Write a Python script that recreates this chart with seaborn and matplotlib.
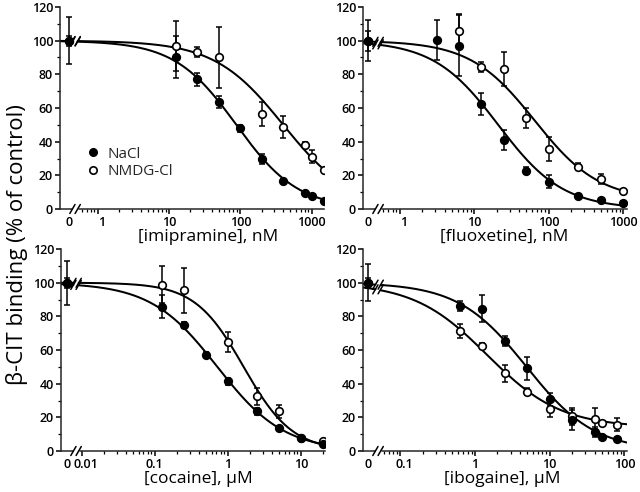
import numpy as np
import pandas as pd
import matplotlib
matplotlib.use("Agg")
import matplotlib.pyplot as plt
import matplotlib.transforms as mtransforms
import seaborn as sns
from matplotlib.lines import Line2D
from matplotlib.ticker import FixedLocator, NullFormatter

# ---------------- data ----------------
# imipramine, nM
imi_conc_nacl = [0, 12.5, 25, 50, 100, 200, 400, 800, 1000, 1500]
imi_nacl = [100, 90.1, 77.0, 63.8, 47.9, 29.5, 16.8, 9.3, 7.7, 4.8]
imi_nacl_err = [3, 12.5, 4, 3.6, 2, 3, 1, 1, 1, 1]
imi_conc_nmdg = [0, 12.5, 25, 50, 200, 400, 800, 1000, 1500]
imi_nmdg = [100, 96.8, 93.5, 90.1, 56.4, 48.9, 38.0, 31.1, 23.2]
imi_nmdg_err = [14, 15, 3, 18, 7, 6.5, 2, 4, 1]

# fluoxetine, nM
fluo_conc_nacl = [0, 3.125, 6.25, 12.5, 25, 50, 100, 250, 500, 1000]
fluo_nacl = [100, 100.4, 97, 62.2, 41, 22.8, 16.2, 7.7, 5.3, 3.8]
fluo_nacl_err = [6, 12, 18, 6.5, 6, 2, 4, 1, 1, 1]
fluo_conc_nmdg = [0, 6.25, 12.5, 25, 50, 100, 250, 500, 1000]
fluo_nmdg = [100, 106, 84.6, 83.2, 53.9, 35.5, 25.2, 17.6, 10.7]
fluo_nmdg_err = [12, 10, 3, 10, 6, 7, 2, 3, 1]

# cocaine, uM
coc_conc_nacl = [0, 0.125, 0.25, 0.5, 1, 2.5, 5, 10, 20]
coc_nacl = [100, 85.8, 74.9, 57, 41.5, 23.6, 13.7, 7.7, 4]
coc_nacl_err = [3, 7, 2, 2, 2, 2, 1, 1, 1]
coc_conc_nmdg = [0, 0.125, 0.25, 1, 2.5, 5, 10, 20]
coc_nmdg = [100, 98.7, 95.4, 64.6, 32.6, 23.6, 7.9, 5.8]
coc_nmdg_err = [13, 11, 13.5, 6, 5, 4, 1, 1]

# ibogaine, uM
ibo_conc_nacl = [0, 0.625, 1.25, 2.5, 5, 10, 20, 40, 50, 80]
ibo_nacl = [100, 86.4, 84.4, 65.4, 49.1, 30.6, 18.3, 11.3, 8.3, 7]
ibo_nacl_err = [3, 3, 8, 3, 7, 4, 6, 3, 1, 1]
ibo_conc_nmdg = [0, 0.625, 1.25, 2.5, 5, 10, 20, 40, 50, 80]
ibo_nmdg = [100, 71.3, 62.4, 46.1, 35.2, 25.2, 20.7, 19.3, 16.9, 15.7]
ibo_nmdg_err = [11, 4, 2, 5, 2, 5, 5, 6, 1, 4]

# fitted curve parameters: top, bottom, IC50, Hill slope
imi_fit_nacl = [100, 0, 88, 1.0]
imi_fit_nmdg = [100, 0, 400, 0.9]
fluo_fit_nacl = [100, 0, 21, 1.0]
fluo_fit_nmdg = [100, 5, 65, 1.0]
coc_fit_nacl = [100, 0, 0.72, 0.95]
coc_fit_nmdg = [100, 0, 1.65, 1.3]
ibo_fit_nacl = [100, 0, 4.9, 0.95]
ibo_fit_nmdg = [100, 14, 1.46, 0.88]

# tick labels
imi_ticks = [1, 10, 100, 1000]
imi_ticklabels = ["0", "1", "10", "100", "1000"]
fluo_ticks = [1, 10, 100, 1000]
fluo_ticklabels = ["0", "1", "10", "100", "1000"]
coc_ticks = [0.01, 0.1, 1, 10]
coc_ticklabels = ["0", "0.01", "0.1", "1", "10"]
ibo_ticks = [0.1, 1, 10, 100]
ibo_ticklabels = ["0", "0.1", "1", "10", "100"]

y_label = "β-CIT binding (% of control)"
legend_labels = ["NaCl", "NMDG-Cl"]

# ---------------- style ----------------
sns.set_style("ticks")
plt.rcParams["font.family"] = ["Open Sans", "DejaVu Sans"]
plt.rcParams["axes.linewidth"] = 1.1
plt.rcParams["xtick.major.width"] = 1.1
plt.rcParams["ytick.major.width"] = 1.1
plt.rcParams["xtick.minor.width"] = 0.9
plt.rcParams["ytick.minor.width"] = 0.9

W, H = 640, 492
fig = plt.figure(figsize=(6.4, 4.92), dpi=100)

panels = [
    dict(rect=(60, 7), loglim=(-0.529, 3.174), zero=0.034, lab_x=0.56,
         xlabel="[imipramine], nM", ticks=imi_ticks, ticklabels=imi_ticklabels,
         nacl=(imi_conc_nacl, imi_nacl, imi_nacl_err, imi_fit_nacl),
         nmdg=(imi_conc_nmdg, imi_nmdg, imi_nmdg_err, imi_fit_nmdg), legend=True),
    dict(rect=(363, 7), loglim=(-0.493, 3.051), zero=0.02, lab_x=0.534,
         xlabel="[fluoxetine], nM", ticks=fluo_ticks, ticklabels=fluo_ticklabels,
         nacl=(fluo_conc_nacl, fluo_nacl, fluo_nacl_err, fluo_fit_nacl),
         nmdg=(fluo_conc_nmdg, fluo_nmdg, fluo_nmdg_err, fluo_fit_nmdg), legend=False),
    dict(rect=(61, 249), loglim=(-2.284, 1.332), zero=0.024, lab_x=0.52,
         xlabel="[cocaine], μM", ticks=coc_ticks, ticklabels=coc_ticklabels,
         nacl=(coc_conc_nacl, coc_nacl, coc_nacl_err, coc_fit_nacl),
         nmdg=(coc_conc_nmdg, coc_nmdg, coc_nmdg_err, coc_fit_nmdg), legend=False),
    dict(rect=(363, 249), loglim=(-1.499, 2.035), zero=0.02, lab_x=0.527,
         xlabel="[ibogaine], μM", ticks=ibo_ticks, ticklabels=ibo_ticklabels,
         nacl=(ibo_conc_nacl, ibo_nacl, ibo_nacl_err, ibo_fit_nacl),
         nmdg=(ibo_conc_nmdg, ibo_nmdg, ibo_nmdg_err, ibo_fit_nmdg), legend=False),
]

AX_W, AX_H = 264, 202
B1, B2 = 0.047, 0.067          # axis-break slash positions (axes fraction)
SLX, SLY = 2.6 / AX_W, 4.5 / AX_H


def hill(x, p):
    top, bottom, ic50, n = p
    return bottom + (top - bottom) / (1 + (x / ic50) ** n)


def frac_to_x(f, lo, hi):
    return 10 ** (lo + f * (hi - lo))


for P in panels:
    left, top = P["rect"]
    ax = fig.add_axes([left / W, 1 - (top + AX_H) / H, AX_W / W, AX_H / H])
    lo, hi = P["loglim"]
    ax.set_xscale("log")
    ax.set_xlim(10 ** lo, 10 ** hi)
    ax.set_ylim(0, 120)
    zero_x = frac_to_x(P["zero"], lo, hi)
    xb1 = frac_to_x(B1, lo, hi)
    xb2 = frac_to_x(B2, lo, hi)

    for key, filled in (("nmdg", False), ("nacl", True)):
        conc, val, err, fit = P[key]
        conc = np.asarray(conc, float)
        xs = np.where(conc == 0, zero_x, conc)
        # fitted curve (right of break) and short piece left of break
        xr = np.logspace(np.log10(xb2), hi, 300)
        xl = np.logspace(lo, np.log10(xb1), 20)
        sns.lineplot(x=xr, y=hill(xr, fit), ax=ax, color="black", lw=1.45,
                     estimator=None, sort=False, zorder=2)
        sns.lineplot(x=xl, y=hill(xl, fit), ax=ax, color="black", lw=1.45,
                     estimator=None, sort=False, zorder=2)
        # break slashes on the curve
        yc = hill(xb1, fit) / 120
        for bx in (B1, B2):
            ax.plot([bx - SLX, bx + SLX], [yc - SLY, yc + SLY], transform=ax.transAxes,
                    color="black", lw=1.1, zorder=3, clip_on=False)
        ax.errorbar(xs, val, yerr=err, fmt="none", ecolor="black", elinewidth=1.1,
                    capsize=2.3, capthick=1.1, zorder=3)
        df = pd.DataFrame({"x": xs, "y": val})
        sns.scatterplot(data=df, x="x", y="y", ax=ax, marker="o", s=30,
                        color="black" if filled else "white", edgecolor="black",
                        linewidth=1.2, zorder=4, legend=False)

    # axis break on bottom spine
    ax.plot([B1, B2], [0, 0], transform=ax.transAxes, color="white", lw=2.2,
            zorder=5, clip_on=False, solid_capstyle="butt")
    for bx in (B1, B2):
        ax.plot([bx - SLX, bx + SLX], [-SLY, SLY], transform=ax.transAxes,
                color="black", lw=1.1, zorder=6, clip_on=False)

    # ticks
    ax.xaxis.set_major_locator(FixedLocator([zero_x] + list(P["ticks"])))
    ax.set_xticklabels(P["ticklabels"])
    minors = []
    for d in range(int(np.floor(lo)), int(np.ceil(hi)) + 1):
        for s in range(2, 10):
            v = s * 10.0 ** d
            if xb2 * 1.05 < v < 10 ** hi:
                minors.append(v)
    ax.xaxis.set_minor_locator(FixedLocator(minors))
    ax.xaxis.set_minor_formatter(NullFormatter())
    ax.xaxis.get_major_ticks()[0].tick1line.set_visible(False)
    ax.set_yticks([0, 20, 40, 60, 80, 100, 120])
    ax.set_yticks([10, 30, 50, 70, 90, 110], minor=True)
    ax.tick_params(axis="both", which="major", length=3.5, labelsize=9, pad=1.5,
                   direction="out", color="black", labelcolor="black")
    ax.tick_params(axis="both", which="minor", length=2, direction="out", color="black")
    for lab in ax.get_xticklabels() + ax.get_yticklabels():
        lab.set_fontweight("semibold")
    # nudge the label next to "0" slightly right so both stay readable
    xl_labels = ax.get_xticklabels()
    shift = mtransforms.ScaledTranslation(3 / 72, 0, fig.dpi_scale_trans)
    xl_labels[1].set_transform(xl_labels[1].get_transform() + shift)
    sns.despine(ax=ax)
    ax.set_ylabel("")
    ax.set_xlabel(P["xlabel"], fontsize=12.5, color="black")
    ax.xaxis.set_label_coords(P["lab_x"], -0.1)
    ax.xaxis.label.set_va("top")

    if P["legend"]:
        handles = [
            Line2D([], [], ls="none", marker="o", markersize=5.3, markerfacecolor="black",
                   markeredgecolor="black", markeredgewidth=1.2),
            Line2D([], [], ls="none", marker="o", markersize=5.3, markerfacecolor="white",
                   markeredgecolor="black", markeredgewidth=1.2),
        ]
        ax.legend(handles, legend_labels, loc="center left", bbox_to_anchor=(0.1, 0.228),
                  frameon=False, fontsize=11, handlelength=0.8, handletextpad=0.6,
                  labelspacing=0.15, borderpad=0, borderaxespad=0)

fig.text(17 / W, 1 - 245 / H, y_label, rotation=90, ha="center", va="center",
         fontsize=16, color="black")

fig.savefig("out.png", dpi=100)
